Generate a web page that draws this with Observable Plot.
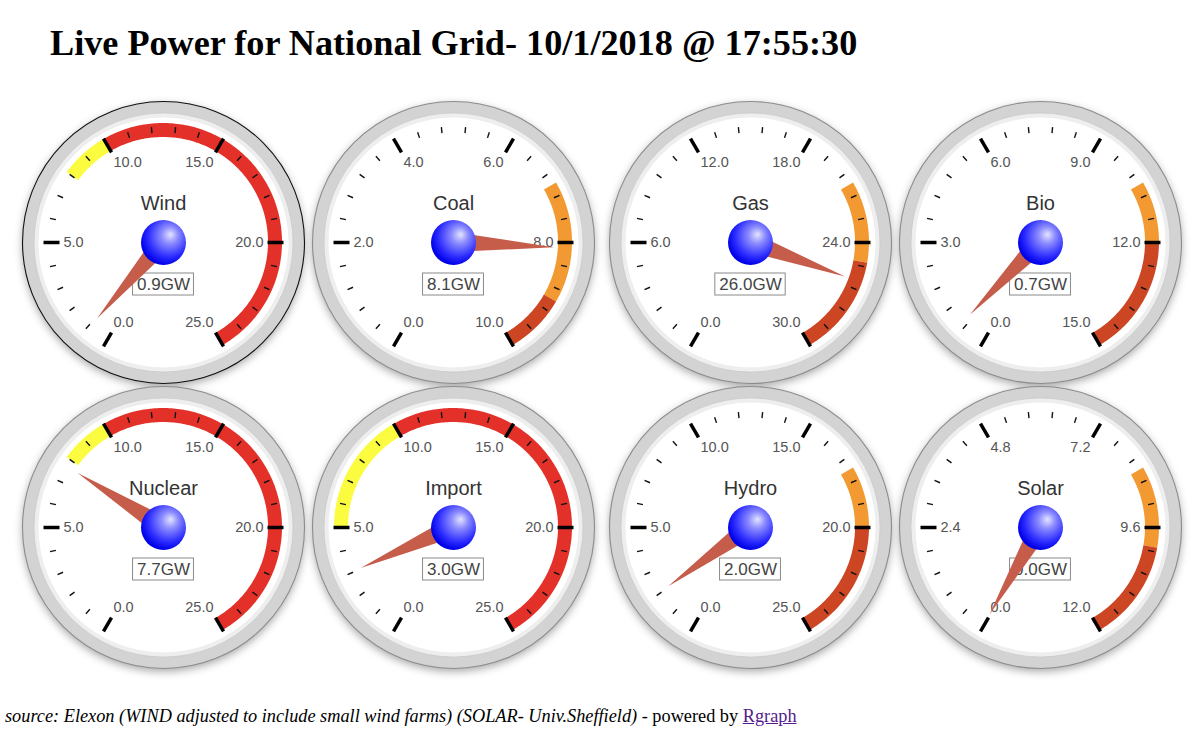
<!DOCTYPE html>
<html><head><meta charset="utf-8">
<script src="https://cdn.jsdelivr.net/npm/d3@7"></script>
<script src="https://cdn.jsdelivr.net/npm/@observablehq/plot@0.6"></script>
<style>
body{margin:0;background:#fff;width:1200px;height:738px;position:relative;overflow:hidden}
#title{position:absolute;left:50px;top:25px;font:bold 36.2px "Liberation Serif","Times New Roman",serif;line-height:1;white-space:nowrap;color:#000}
#chart{position:absolute;left:0;top:85px}
#foot{position:absolute;left:5px;top:707px;font:18.3px "Liberation Serif","Times New Roman",serif;line-height:1;white-space:nowrap;color:#000}
#foot i{font-style:italic}
#foot a{color:#551a8b}
</style></head><body>
<div id="title">Live Power for National Grid- 10/1/2018 @ 17:55:30</div>
<div id="chart"></div>
<div id="foot"><i>source: Elexon (WIND adjusted to include small wind farms) (SOLAR- Univ.Sheffield)</i> - powered by <a href="#">Rgraph</a></div>
<script>
// ---- data ----
const sources  = ["Wind", "Coal", "Gas", "Bio", "Nuclear", "Import", "Hydro", "Solar"];
const values   = [0.9, 8.1, 26.0, 0.7, 7.7, 3.0, 2.0, 0.0];
const maxima   = [25, 10, 30, 15, 25, 25, 25, 12];
const unit     = "GW";
const zone1From = [8, 7, 21, 10.5, 8, 5, 17.5, 8.4];
const zone1To   = [10, 9, 25, 12, 10, 10, 20, 10];
const zoneType  = ["capacity", "output", "output", "output", "capacity", "capacity", "output", "output"];
const majorCount = 5, minorPerMajor = 5;

// ---- style / layout ----
const zonePalette = {capacity: ["#fbfb40", "#e3312a"], output: ["#f29a31", "#cc4624"]};
const W = 1200, H = 600;
const colX = [163, 453, 750, 1040], rowY = [157, 442];
const cx = sources.map((d, i) => colX[i % 4]);
const cy = sources.map((d, i) => rowY[Math.floor(i / 4)]);
const FONT = '"Liberation Sans", Arial, Helvetica, sans-serif';

const rad = d => d * Math.PI / 180;
const ang = (v, m) => rad(-150 + 300 * v / m);
const px = (i, a, r) => cx[i] + r * Math.sin(a);
const py = (i, a, r) => cy[i] - r * Math.cos(a);

const gauges = sources.map((name, i) => ({i, name, value: values[i], max: maxima[i],
  x: cx[i], y: cy[i], outline: i === 0 ? "#111" : "#8c8c8c"}));

// colour zones
const bands = [];
gauges.forEach(g => {
  const segs = [[zone1From[g.i], zone1To[g.i], 0], [zone1To[g.i], g.max, 1]];
  segs.forEach(([a, b, k]) => {
    const n = Math.max(2, Math.ceil((b - a) / g.max * 300));
    for (let j = 0; j <= n; j++) {
      const t = ang(a + (b - a) * j / n, g.max);
      bands.push({z: g.i + "-" + k, x1: px(g.i, t, 105), y1: py(g.i, t, 105),
        x2: px(g.i, t, 119), y2: py(g.i, t, 119), fill: zonePalette[zoneType[g.i]][k]});
    }
  });
});

// ticks
const majors = [], minors = [], labelsL = [], labelsR = [];
gauges.forEach(g => {
  const n = majorCount * minorPerMajor;
  for (let k = 0; k <= n; k++) {
    const v = g.max * k / n, t = ang(v, g.max);
    if (k % minorPerMajor === 0) {
      majors.push({x1: px(g.i, t, 104), y1: py(g.i, t, 104), x2: px(g.i, t, 120), y2: py(g.i, t, 120)});
      const lab = {x: cx[g.i] + 100 * Math.sin(t), y: cy[g.i] - 92 * Math.cos(t), text: v.toFixed(1)};
      (Math.sin(t) < 0 ? labelsL : labelsR).push(lab);
    } else {
      minors.push({x1: px(g.i, t, 110), y1: py(g.i, t, 110), x2: px(g.i, t, 116), y2: py(g.i, t, 116)});
    }
  }
});

// needles
const needles = gauges.flatMap(g => {
  const t = ang(g.value, g.max), p = t + Math.PI / 2;
  const tip = {x: px(g.i, t, 101), y: py(g.i, t, 101)};
  return [
    {z: g.i, x1: px(g.i, p, 10), y1: py(g.i, p, 10), x2: px(g.i, p, -10), y2: py(g.i, p, -10)},
    {z: g.i, x1: tip.x, y1: tip.y, x2: tip.x, y2: tip.y}
  ];
});

// value boxes
const ctx = document.createElement("canvas").getContext("2d");
ctx.font = "17px " + FONT;
const boxes = gauges.map(g => {
  const label = g.value.toFixed(1) + unit;
  const w = ctx.measureText(label).width;
  return {label, x: g.x, y: g.y + 42, x1: g.x - w / 2 - 4, x2: g.x + w / 2 + 4, y1: g.y + 31, y2: g.y + 53};
});

const svg = Plot.plot({
  width: W, height: H, margin: 0,
  x: {domain: [0, W], range: [0, W], axis: null},
  y: {domain: [0, H], range: [0, H], axis: null},
  color: {type: "identity"},
  style: {fontFamily: FONT, background: "transparent"},
  marks: [
    Plot.dot(gauges, {x: "x", y: "y", r: 141, dy: 3, fill: "#000", fillOpacity: 0.35}),
    Plot.dot(gauges, {x: "x", y: "y", r: 141, fill: "#d3d3d3", stroke: "outline", strokeWidth: 1.1}),
    Plot.dot(gauges, {x: "x", y: "y", r: 129.5, fill: "#eeeeee", stroke: "#c4c4c4", strokeWidth: 0.6}),
    Plot.dot(gauges, {x: "x", y: "y", r: 125, fill: "#ffffff"}),
    Plot.area(bands, {x1: "x1", y1: "y1", x2: "x2", y2: "y2", z: "z", fill: "fill"}),
    Plot.link(minors, {x1: "x1", y1: "y1", x2: "x2", y2: "y2", stroke: "#111", strokeWidth: 1.4}),
    Plot.link(majors, {x1: "x1", y1: "y1", x2: "x2", y2: "y2", stroke: "#000", strokeWidth: 3.5}),
    Plot.text(labelsL, {x: "x", y: "y", text: "text", textAnchor: "start", fontSize: 14.5, fill: "#555"}),
    Plot.text(labelsR, {x: "x", y: "y", text: "text", textAnchor: "end", fontSize: 14.5, fill: "#555"}),
    Plot.text(gauges, {x: "x", y: d => d.y - 39, text: "name", fontSize: 20, fill: "#333"}),
    Plot.rect(boxes, {x1: "x1", x2: "x2", y1: "y1", y2: "y2", fill: "#fff", stroke: "#8a8a8a", strokeWidth: 1}),
    Plot.text(boxes, {x: "x", y: "y", text: "label", fontSize: 17, fill: "#444"}),
    Plot.area(needles, {x1: "x1", y1: "y1", x2: "x2", y2: "y2", z: "z", fill: "#c65c4a"}),
    Plot.dot(gauges, {x: "x", y: "y", r: 22.5, fill: "#0000ff"})
  ]
});

const root = d3.select(svg);
const NS = "http://www.w3.org/2000/svg";
const defs = document.createElementNS(NS, "defs");
defs.innerHTML =
  '<radialGradient id="ballGrad" cx="0.6" cy="0.38" r="0.62" fx="0.66" fy="0.32">' +
  '<stop offset="0" stop-color="#e4e4ff"/><stop offset="0.3" stop-color="#8c8cff"/>' +
  '<stop offset="0.75" stop-color="#2a2aff"/><stop offset="1" stop-color="#0000e8"/></radialGradient>' +
  '<filter id="soft" x="-20%" y="-20%" width="140%" height="140%"><feGaussianBlur stdDeviation="4"/></filter>';
svg.insertBefore(defs, svg.firstChild);
const dotGroups = root.selectAll('g[aria-label="dot"]').nodes();
d3.select(dotGroups[0]).attr("filter", "url(#soft)");
const ballG = d3.select(dotGroups[dotGroups.length - 1]);
ballG.attr("fill", "url(#ballGrad)").selectAll("circle").attr("fill", "url(#ballGrad)");
document.getElementById("chart").appendChild(svg);
</script>
</body></html>
